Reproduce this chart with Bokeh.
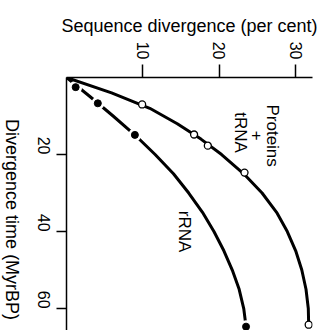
import math
from bokeh.plotting import figure
from bokeh.layouts import row
from bokeh.models import Range1d, FixedTicker
from bokeh.core.properties import value
from bokeh.embed import file_html
from bokeh.resources import INLINE

# Proteins + tRNA: fitted curve (time MyrBP -> divergence %)
prot_curve_time = [0, 4, 8, 12, 16, 20, 25, 30, 35, 40, 45, 50, 55, 60, 64.2]
prot_curve_div = [0, 5.9, 10.9, 14.5, 17.6, 20.3, 23.2, 25.6, 27.5, 28.9, 30.0, 30.8, 31.35, 31.65, 31.7]
prot_pts_div = [9.9, 16.7, 18.5, 23.3, 31.7]
prot_pts_time = [7.0, 14.8, 17.7, 24.7, 64.2]

# rRNA: fitted curve and observed points
rrna_curve_time = [0, 5, 10, 15, 20, 25, 30, 35, 40, 45, 50, 55, 60, 64.7]
rrna_curve_div = [0, 3.1, 6.1, 9.0, 11.6, 14.0, 16.0, 17.8, 19.3, 20.6, 21.7, 22.6, 23.2, 23.5]
rrna_pts_div = [1.2, 4.1, 8.95, 23.5]
rrna_pts_time = [2.5, 6.7, 14.9, 64.7]

x_ticks = [10, 20, 30]
y_ticks = [20, 40, 60]

FONT = "Liberation Sans"
Y_TOP, Y_BOTTOM = 0, 65.7

# narrow strip holding the rotated y-axis title
side = figure(width=26, height=330, output_backend="svg", toolbar_location=None,
              x_range=Range1d(0, 1), y_range=Range1d(Y_BOTTOM, Y_TOP),
              min_border_left=0, min_border_right=0, min_border_top=77,
              min_border_bottom=0)
side.axis.visible = False
side.grid.visible = False
side.outline_line_color = None
side.text([0.45], [36.9], text=["Divergence time (MyrBP)"], angle=-math.pi / 2,
          text_align="center", text_baseline="middle", text_font=value(FONT),
          text_font_size="18px", text_color="black")

p = figure(width=296, height=330, output_backend="svg", toolbar_location=None,
           x_range=Range1d(0, 32.2), y_range=Range1d(Y_BOTTOM, Y_TOP),
           x_axis_location="above", min_border_left=40, min_border_top=77,
           min_border_right=10, min_border_bottom=0)
p.outline_line_color = None
p.grid.visible = False
p.background_fill_color = "white"
p.border_fill_color = "white"

p.xaxis.ticker = FixedTicker(ticks=x_ticks)
p.yaxis.ticker = FixedTicker(ticks=y_ticks)
for ax in (p.xaxis, p.yaxis):
    ax.major_tick_in = 0
    ax.minor_tick_line_color = None
    ax.axis_line_width = 1.5
    ax.major_tick_line_width = 1.5
    ax.axis_line_color = "black"
    ax.major_tick_line_color = "black"
    ax.major_label_text_font = FONT
    ax.major_label_text_font_size = "16px"
    ax.major_label_text_color = "black"
    ax.major_label_orientation = -math.pi / 2
    ax.axis_label_text_font = FONT
    ax.axis_label_text_font_size = "18px"
    ax.axis_label_text_font_style = "normal"
    ax.axis_label_text_color = "black"

p.xaxis.major_tick_out = 13
p.xaxis.major_label_standoff = 5
p.xaxis.axis_label = "Sequence divergence (per cent)"
p.xaxis.axis_label_standoff = 3

p.yaxis.major_tick_out = 10
p.yaxis.major_label_standoff = 13

# rRNA line with white halos around its dots
p.line(rrna_curve_div, rrna_curve_time, line_width=3, line_color="black",
       line_join="round", line_cap="round")
p.scatter(rrna_pts_div, rrna_pts_time, size=13, fill_color="white", line_color=None)
p.scatter(rrna_pts_div, rrna_pts_time, size=7, fill_color="black", line_color="black")

# Proteins + tRNA
p.line(prot_curve_div, prot_curve_time, line_width=3, line_color="black",
       line_join="round", line_cap="round")
p.scatter(prot_pts_div, prot_pts_time, size=7, fill_color="white", line_color="black",
          line_width=1.3)

label_texts = ["Proteins", "+", "tRNA", "rRNA"]
label_x = [27.0, 24.9, 22.8, 15.5]
label_y = [15.1, 15.1, 14.3, 40.0]
p.text(label_x, label_y, text=label_texts, angle=-math.pi / 2, text_align="center",
       text_baseline="middle", text_font=value(FONT), text_font_size="17px",
       text_color="black")

layout = row(side, p, spacing=0)
open("out.html", "w").write(file_html(layout, INLINE))
